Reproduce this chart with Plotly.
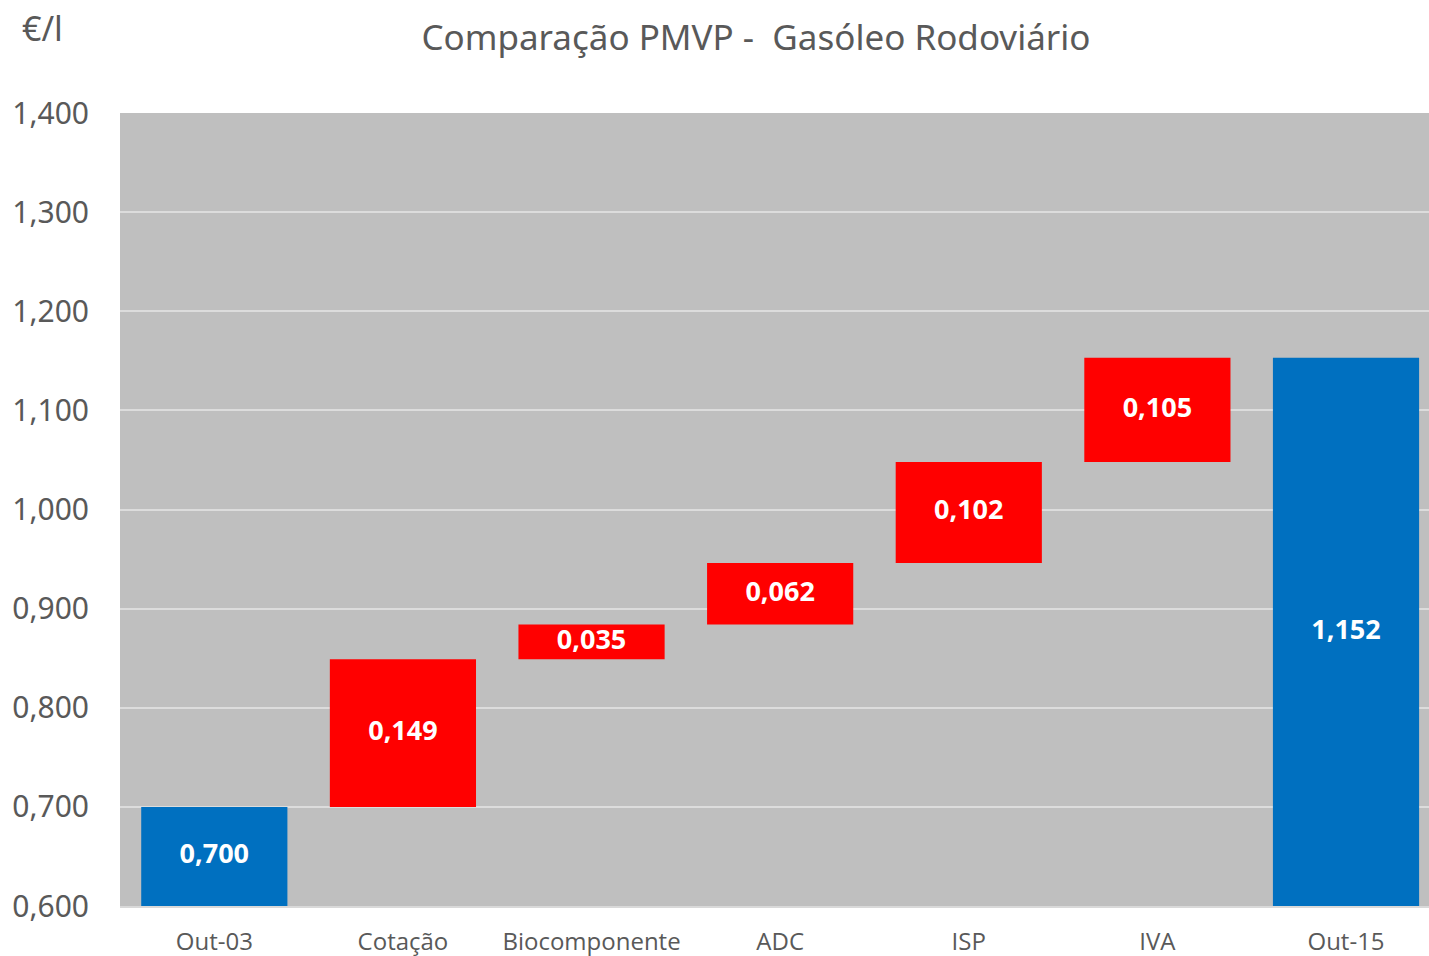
import plotly.graph_objects as go

categories = ["Out-03", "Cotação", "Biocomponente", "ADC", "ISP", "IVA", "Out-15"]
values = [0.700, 0.149, 0.035, 0.062, 0.102, 0.105, 1.152]
measures = ["absolute", "relative", "relative", "relative", "relative", "relative", "total"]
y_ticks = [0.6, 0.7, 0.8, 0.9, 1.0, 1.1, 1.2, 1.3, 1.4]
y_range = [0.6, 1.4]

GREY_TXT = "#595959"

# label positions: middle of the visible part of every bar
labels, label_y = [], []
running = 0.0
for v, m in zip(values, measures):
    if m == "relative":
        lo, hi = running, running + v
        running = hi
    else:
        lo, hi = y_range[0], v
        running = v
    labels.append(f"{v:.3f}".replace(".", ","))
    label_y.append((lo + hi) / 2)

fig = go.Figure()
fig.add_trace(go.Waterfall(
    x=categories,
    y=values,
    measure=measures,
    increasing=dict(marker=dict(color="#FF0000")),
    decreasing=dict(marker=dict(color="#FF0000")),
    totals=dict(marker=dict(color="#0070C0")),
    connector=dict(visible=False),
    hoverinfo="x+y",
))
fig.add_trace(go.Scatter(
    x=categories,
    y=label_y,
    mode="text",
    text=labels,
    textposition="middle center",
    textfont=dict(family="Open Sans", size=27, color="white", weight="bold"),
    hoverinfo="skip",
))

fig.update_layout(
    width=1429,
    height=956,
    margin=dict(l=120, r=0, t=113, b=50),
    paper_bgcolor="white",
    plot_bgcolor="#BFBFBF",
    separators=",.",
    waterfallgap=0.225,
    showlegend=False,
    font=dict(family="Open Sans", color=GREY_TXT),
    title=dict(
        text="Comparação PMVP -  Gasóleo Rodoviário",
        x=0.529, xanchor="center", y=0.96, yanchor="middle",
        font=dict(family="Noto Sans", size=35, color=GREY_TXT),
    ),
)

fig.add_annotation(
    text="€/l", xref="paper", yref="paper", x=-0.059, y=1.107,
    xanchor="center", yanchor="middle", showarrow=False,
    font=dict(family="Noto Sans", size=34, color=GREY_TXT),
)

fig.update_yaxes(
    range=y_range,
    tickvals=y_ticks,
    tickformat=".3f",
    showgrid=True,
    gridcolor="#DCDCDC",
    gridwidth=2,
    zeroline=False,
    automargin=False,
    ticklabelstandoff=30,
    tickfont=dict(family="Noto Sans", size=30, color=GREY_TXT),
)
fig.update_xaxes(
    range=[-0.5, 6.44],
    showline=True,
    linecolor="#D9D9D9",
    linewidth=2,
    ticks="",
    automargin=False,
    ticklabelstandoff=13,
    tickfont=dict(family="Open Sans", size=24, color=GREY_TXT),
)

fig.write_html(
    "out.html",
    config={"displayModeBar": False},
    post_script="document.body.style.margin = '0';",
)
